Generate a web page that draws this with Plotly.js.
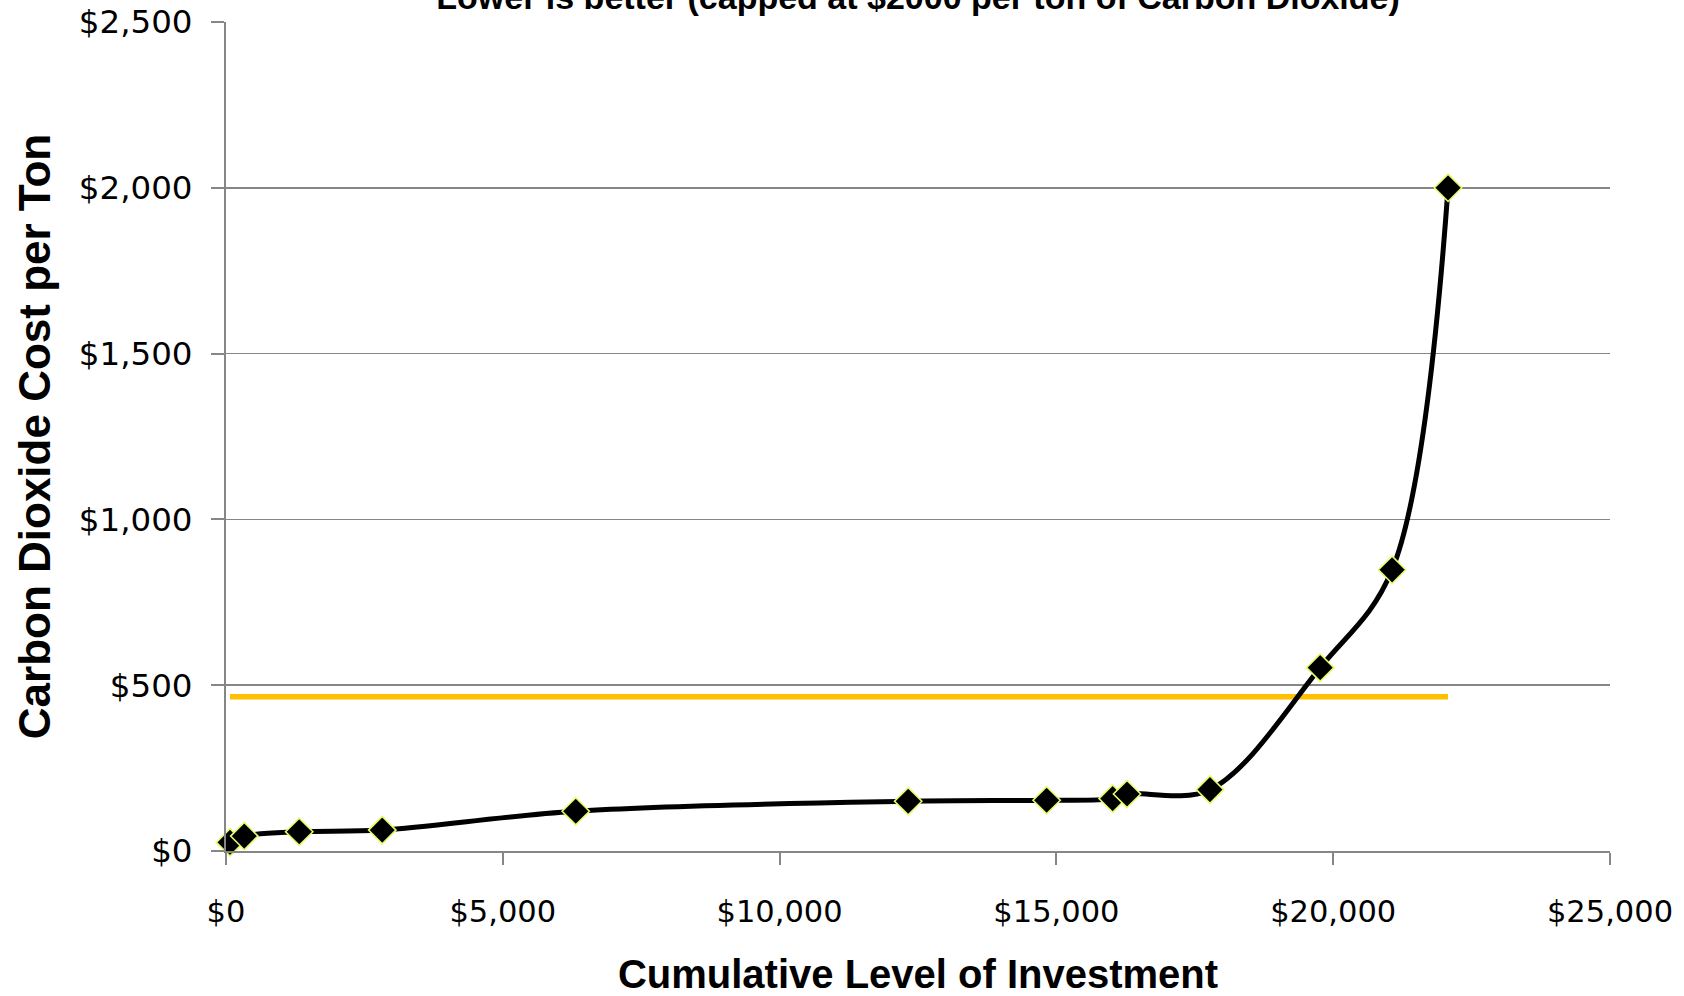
<!DOCTYPE html>
<html>
<head>
<meta charset="utf-8">
<script src="https://cdn.plot.ly/plotly-3.0.1.min.js"></script>
<style>
  html, body { margin: 0; padding: 0; background: #ffffff; }
  #chart { width: 1684px; height: 996px; }
</style>
</head>
<body>
<div id="chart"></div>
<script>
// Cumulative investment (x) and the carbon dioxide cost per ton it buys (y)
const investment = [72, 330, 1323, 2822, 6318, 12323, 14824, 16016, 16276, 17774, 19765, 21064, 22075];
const costPerTon = [26, 45, 58, 63, 120, 150, 153, 158, 172, 185, 553, 848, 2000];

// Reference level drawn across the span of the investments
const referenceX = [72, 22075];
const referenceY = [465, 465];

const chartTitle = 'Lower is better (capped at $2000 per ton of Carbon Dioxide)';
const xTitle = 'Cumulative Level of Investment';
const yTitle = 'Carbon Dioxide Cost per Ton';

const xTickVals = [0, 5000, 10000, 15000, 20000, 25000];
const xTickText = ['$0', '$5,000', '$10,000', '$15,000', '$20,000', '$25,000'];
const yTickVals = [0, 500, 1000, 1500, 2000, 2500];
const yTickText = ['$0', '$500', '$1,000', '$1,500', '$2,000', '$2,500'];

const axisGrey = '#868686';
const tickFamily = 'DejaVu Sans, Verdana, sans-serif';
const boldFamily = 'Liberation Sans, Arial, sans-serif';

const traces = [
  {
    x: referenceX,
    y: referenceY,
    type: 'scatter',
    mode: 'lines',
    line: { color: '#FFC000', width: 5.5 },
    hoverinfo: 'skip',
    showlegend: false
  },
  {
    x: investment,
    y: costPerTon,
    type: 'scatter',
    mode: 'lines+markers',
    cliponaxis: false,
    line: { color: '#000000', width: 5, shape: 'spline', smoothing: 1 },
    marker: {
      symbol: 'diamond',
      size: 21,
      color: '#000000',
      line: { color: '#E6FA6A', width: 1.6 }
    },
    showlegend: false
  }
];

const layout = {
  width: 1684,
  height: 996,
  paper_bgcolor: '#ffffff',
  plot_bgcolor: '#ffffff',
  margin: { l: 226, r: 74, t: 22, b: 144.5, pad: 0 },
  showlegend: false,
  title: {
    text: chartTitle,
    font: { family: boldFamily, size: 34, color: '#000000', weight: 'bold' },
    xref: 'paper',
    x: 0.5,
    xanchor: 'center',
    yref: 'container',
    y: 1,
    yanchor: 'top',
    pad: { t: 0 }
  },
  xaxis: {
    range: [0, 25000],
    tickmode: 'array',
    tickvals: xTickVals,
    ticktext: xTickText,
    tickfont: { family: tickFamily, size: 30.5, color: '#000000' },
    ticks: 'outside',
    ticklen: 12,
    tickwidth: 2,
    tickcolor: axisGrey,
    ticklabelstandoff: 20,
    showline: true,
    linecolor: axisGrey,
    linewidth: 2,
    showgrid: false,
    zeroline: false,
    automargin: false,
    title: { text: xTitle, font: { family: boldFamily, size: 40, color: '#000000', weight: 'bold' }, standoff: 62 }
  },
  yaxis: {
    range: [0, 2500],
    tickmode: 'array',
    tickvals: yTickVals,
    ticktext: yTickText,
    tickfont: { family: tickFamily, size: 32.5, color: '#000000' },
    ticks: 'outside',
    ticklen: 13,
    tickwidth: 2,
    tickcolor: axisGrey,
    ticklabelstandoff: 12,
    showline: true,
    linecolor: axisGrey,
    linewidth: 2,
    showgrid: true,
    gridcolor: axisGrey,
    gridwidth: 1.5,
    zeroline: false,
    automargin: false,
    title: { text: yTitle, font: { family: boldFamily, size: 44, color: '#000000', weight: 'bold' }, standoff: 14 }
  }
};

Plotly.newPlot('chart', traces, layout, { displayModeBar: false, staticPlot: true }).then(function (gd) {
  // Put the chart title's baseline just below the top edge, so only its lower part shows
  const t = gd.querySelector('text.gtitle');
  if (t) {
    t.removeAttribute('transform');
    t.removeAttribute('dy');
    t.setAttribute('y', '9');
    t.querySelectorAll('tspan').forEach(function (s) {
      s.removeAttribute('dy');
      s.setAttribute('y', '9');
    });
  }
});
</script>
</body>
</html>
